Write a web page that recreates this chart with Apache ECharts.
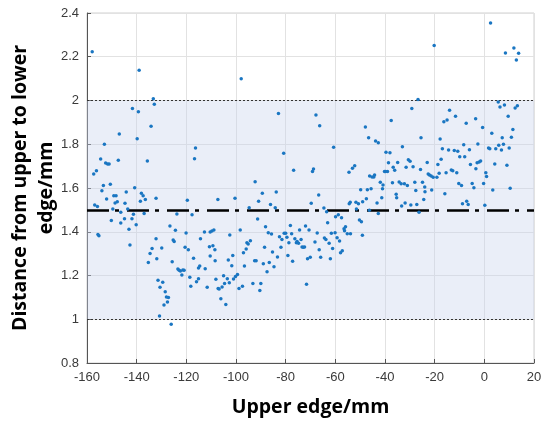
<!DOCTYPE html>
<html>
<head>
<meta charset="utf-8">
<script src="https://cdn.jsdelivr.net/npm/echarts@6/dist/echarts.min.js"></script>
<style>
    html, body { margin: 0; padding: 0; background: #fff; }
    #chart { width: 550px; height: 427px; }
</style>
</head>
<body>
<div id="chart"></div>
<script>
// x ticks and y ticks
var xTicks = [-160, -140, -120, -100, -80, -60, -40, -20, 0, 20];
var yTicks = [0.8, 1, 1.2, 1.4, 1.6, 1.8, 2, 2.2, 2.4];

// tolerance band and nominal value
var bandLow = 1.0;
var bandHigh = 2.0;
var nominal = 1.5;

var outliers = [
    [-157.9, 2.223], [-139.0, 2.138], [-133.3, 2.008], [-132.9, 1.983], [-97.9, 2.10],
    [2.5, 2.354], [-20.2, 2.252], [8.5, 2.217], [11.9, 2.24], [13.8, 2.216], [12.9, 2.185], [-26.7, 2.005]
];

var leftPts = [
    [-141.7, 1.963], [-139.3, 1.949], [-134.2, 1.882], [-147.0, 1.847], [-139.8, 1.825], [-153.0, 1.80],
    [-154.5, 1.733], [-147.4, 1.727], [-152.5, 1.714], [-151.7, 1.710], [-151.1, 1.710], [-135.7, 1.723],
    [-156.2, 1.679], [-157.3, 1.664], [-153.4, 1.612], [-150.6, 1.617], [-154.0, 1.588], [-140.8, 1.601],
    [-144.2, 1.582], [-149.2, 1.565], [-148.3, 1.565], [-138.1, 1.576], [-137.4, 1.565], [-152.1, 1.550],
    [-136.5, 1.547], [-147.8, 1.537], [-148.7, 1.531], [-144.7, 1.530], [-138.5, 1.539], [-132.2, 1.553],
    [-156.9, 1.522], [-155.8, 1.516], [-149.6, 1.504], [-143.6, 1.504],
    [-155.2, 1.382], [-155.6, 1.388], [-150.2, 1.452], [-146.4, 1.440], [-144.9, 1.460], [-143.1, 1.411],
    [-142.7, 1.339], [-141.9, 1.460], [-141.3, 1.480], [-140.2, 1.432], [-137.0, 1.483], [-146.4, 1.489],
    [-135.3, 1.259], [-134.6, 1.301], [-133.8, 1.324], [-132.2, 1.368], [-131.9, 1.277], [-129.9, 1.326],
    [-131.4, 1.178], [-130.6, 1.146], [-129.5, 1.169], [-128.5, 1.126], [-128.0, 1.102], [-127.2, 1.100],
    [-127.6, 1.079], [-129.0, 1.065], [-130.8, 1.015], [-126.1, 0.977], [-126.6, 1.426], [-124.4, 1.407],
    [-125.3, 1.362], [-124.9, 1.355], [-125.7, 1.263], [-123.8, 1.481], [-123.4, 1.230], [-122.9, 1.224],
    [-122.4, 1.221], [-121.8, 1.202], [-121.4, 1.225], [-120.9, 1.224], [-120.5, 1.329], [-120.1, 1.394],
    [-119.2, 1.318], [-118.6, 1.192], [-118.2, 1.151], [-117.7, 1.478], [-117.1, 1.279]
];

var midPts = [
    [-116.3, 1.783], [-116.7, 1.734], [-119.6, 1.544], [-107.3, 1.548], [-100.4, 1.553],
    [-115.9, 1.172], [-115.1, 1.185], [-115.1, 1.234], [-114.6, 1.243], [-114.3, 1.368], [-112.7, 1.399],
    [-112.4, 1.231], [-111.6, 1.146], [-110.7, 1.332], [-110.4, 1.399], [-110.4, 1.289], [-109.7, 1.403],
    [-109.3, 1.336], [-108.5, 1.318], [-108.9, 1.408], [-108.4, 1.268], [-108.1, 1.183], [-107.2, 1.141],
    [-106.8, 1.138], [-106.1, 1.094], [-105.6, 1.147], [-105.0, 1.199], [-104.6, 1.164], [-104.1, 1.067],
    [-103.5, 1.185], [-103.1, 1.271], [-102.7, 1.167], [-102.5, 1.385],
    [-101.7, 1.245], [-101.3, 1.291], [-101.0, 1.184], [-100.2, 1.196], [-99.4, 1.205], [-98.8, 1.141],
    [-98.3, 1.408], [-97.4, 1.151], [-97.0, 1.304], [-96.6, 1.243], [-95.9, 1.321], [-95.6, 1.350],
    [-95.1, 1.344], [-94.2, 1.359], [-93.2, 1.164], [-92.5, 1.268], [-91.9, 1.268], [-91.3, 1.458],
    [-90.4, 1.132], [-90.0, 1.164], [-89.0, 1.254], [-88.5, 1.329], [-88.1, 1.423], [-87.5, 1.217],
    [-87.0, 1.396], [-86.6, 1.260], [-85.7, 1.390], [-85.3, 1.307], [-84.7, 1.240], [-83.3, 1.285],
    [-82.5, 1.377], [-81.9, 1.329], [-81.5, 1.365], [-80.6, 1.393], [-80.0, 1.393], [-79.5, 1.375],
    [-79.1, 1.291], [-78.7, 1.350], [-78.1, 1.429], [-77.6, 1.391], [-77.2, 1.265], [-76.3, 1.368],
    [-75.7, 1.350], [-75.4, 1.355], [-74.8, 1.347], [-74.4, 1.408], [-73.8, 1.365], [-73.4, 1.330],
    [-72.9, 1.329], [-72.4, 1.330], [-72.0, 1.426], [-71.6, 1.160], [-71.2, 1.277], [-70.6, 1.408],
    [-70.1, 1.283], [-68.2, 1.353], [-67.3, 1.394], [-66.5, 1.318], [-65.9, 1.283], [-64.4, 1.371],
    [-63.8, 1.365], [-63.5, 1.492], [-63.1, 1.441], [-62.5, 1.347], [-62.0, 1.277], [-61.6, 1.393],
    [-61.1, 1.324], [-60.1, 1.396], [-59.9, 1.469], [-59.3, 1.373], [-58.8, 1.478], [-58.3, 1.358],
    [-57.9, 1.304], [-57.5, 1.464], [-57.2, 1.313], [-56.5, 1.414], [-56.3, 1.405], [-55.9, 1.423],
    [-55.2, 1.391], [-53.9, 1.391], [-50.3, 1.454], [-49.5, 1.446], [-49.1, 1.384], [-46.3, 1.498],
    [-42.7, 1.483],
    [-82.9, 1.941], [-80.8, 1.759], [-76.8, 1.681], [-92.3, 1.629], [-89.4, 1.576], [-83.8, 1.582],
    [-90.9, 1.539], [-86.1, 1.525], [-94.7, 1.510], [-84.2, 1.510],
    [-67.8, 1.934], [-66.3, 1.885], [-60.7, 1.786], [-47.9, 1.879], [-46.6, 1.830], [-43.8, 1.815],
    [-42.7, 1.807], [-68.8, 1.687], [-69.2, 1.676], [-52.2, 1.702], [-53.1, 1.690], [-54.5, 1.672],
    [-46.2, 1.655], [-45.2, 1.650], [-44.5, 1.650], [-44.2, 1.659], [-40.2, 1.676], [-41.9, 1.626],
    [-40.8, 1.614], [-66.7, 1.568], [-49.8, 1.592], [-47.1, 1.592], [-45.6, 1.597], [-41.0, 1.597],
    [-41.3, 1.556], [-47.5, 1.551], [-49.0, 1.537], [-43.2, 1.531], [-69.7, 1.530], [-64.6, 1.509],
    [-54.0, 1.535], [-54.4, 1.528], [-51.7, 1.535], [-50.7, 1.528], [-51.5, 1.504]
];

var rightPts = [
    [-29.2, 1.964], [-37.5, 1.909], [-14.0, 1.955], [-16.3, 1.903], [-15.0, 1.911], [-11.6, 1.928],
    [-7.3, 1.896], [-3.5, 1.917], [-0.7, 1.877], [5.6, 1.993], [6.3, 1.970], [8.1, 1.979],
    [12.4, 1.966], [13.3, 1.976], [9.6, 1.928], [11.5, 1.868], [3.0, 1.850], [10.9, 1.832],
    [7.2, 1.830], [-25.5, 1.830], [-17.8, 1.824], [-33.0, 1.789], [-16.9, 1.780], [-14.4, 1.774],
    [-12.1, 1.772], [-10.7, 1.768], [-8.3, 1.798], [-6.0, 1.775], [-2.6, 1.801], [1.7, 1.783],
    [2.2, 1.780], [4.6, 1.780], [5.8, 1.795], [6.9, 1.774], [7.7, 1.800], [10.0, 1.783],
    [-39.6, 1.763], [-38.0, 1.761], [-39.8, 1.675], [-39.0, 1.675], [-38.6, 1.716], [-36.7, 1.695],
    [-36.1, 1.681], [-34.9, 1.717], [-31.5, 1.695], [-30.6, 1.729], [-29.9, 1.722], [-28.7, 1.697],
    [-25.7, 1.685], [-23.0, 1.717], [-22.6, 1.664], [-22.1, 1.659], [-21.4, 1.655], [-20.6, 1.649],
    [-19.1, 1.649], [-18.7, 1.708], [-18.2, 1.667], [-17.4, 1.731], [-15.4, 1.670], [-13.3, 1.682],
    [-12.7, 1.679], [-11.1, 1.670], [-9.9, 1.743], [-7.9, 1.743], [-5.6, 1.708], [-3.4, 1.688],
    [-2.9, 1.716], [-2.1, 1.719], [-1.5, 1.723], [0.6, 1.670], [0.9, 1.653], [4.2, 1.710],
    [9.1, 1.704], [-37.0, 1.624], [-34.3, 1.627], [-33.5, 1.620], [-32.2, 1.620], [-31.0, 1.612],
    [-28.0, 1.626], [-24.9, 1.626], [-24.0, 1.605], [-10.3, 1.621], [-9.2, 1.612], [-4.9, 1.621],
    [-4.2, 1.601], [-0.3, 1.621], [3.4, 1.591], [10.4, 1.599],
    [-35.5, 1.571], [-35.3, 1.556], [-33.3, 1.518], [-31.9, 1.531], [-29.6, 1.522], [-27.2, 1.525],
    [-27.6, 1.589], [-26.3, 1.489], [-24.4, 1.548], [-23.9, 1.583], [-21.2, 1.591], [-15.9, 1.574],
    [-8.8, 1.528], [-7.1, 1.540], [-6.5, 1.525], [0.2, 1.521]
];

var points = outliers.concat(leftPts, midPts, rightPts);

var labelFont = { fontFamily: 'Liberation Sans', fontSize: 13, color: '#3a3a3a' };
var titleFont = { fontFamily: 'Open Sans', fontSize: 19.5, fontWeight: 'bold', color: '#000' };

var myChart = echarts.init(document.getElementById('chart'));

myChart.setOption({
    animation: false,
    grid: {
        left: 87, right: 16, top: 13, bottom: 64,
        outerBoundsMode: 'none',
        containLabel: false,
        show: true,
        borderColor: '#d0d0d0',
        borderWidth: 1
    },
    xAxis: {
        type: 'value',
        min: xTicks[0],
        max: xTicks[xTicks.length - 1],
        interval: 20,
        name: 'Upper edge/mm',
        nameLocation: 'middle',
        nameGap: 34,
        nameMoveOverlap: false,
        nameTextStyle: titleFont,
        axisLine: { onZero: false, lineStyle: { color: '#555', width: 1 } },
        axisTick: { inside: true, length: 4, lineStyle: { color: '#555' } },
        axisLabel: Object.assign({ margin: 8 }, labelFont),
        splitLine: { show: true, lineStyle: { color: '#e2e2e2', width: 1 } }
    },
    yAxis: {
        type: 'value',
        min: yTicks[0],
        max: yTicks[yTicks.length - 1],
        interval: 0.2,
        name: 'Distance from upper to lower\nedge/mm',
        nameLocation: 'middle',
        nameGap: 28,
        nameMoveOverlap: false,
        nameTextStyle: Object.assign({ lineHeight: 26 }, titleFont),
        axisLine: { show: true, onZero: false, lineStyle: { color: '#555', width: 1 } },
        axisTick: { show: true, inside: true, length: 4, lineStyle: { color: '#555' } },
        axisLabel: Object.assign({
            margin: 8,
            formatter: function (v) { return String(Math.round(v * 10) / 10); }
        }, labelFont),
        splitLine: { show: true, lineStyle: { color: '#e2e2e2', width: 1 } }
    },
    series: [
        {
            type: 'scatter',
            data: points,
            symbolSize: 3.5,
            itemStyle: { color: '#1a76c2', opacity: 1 },
            z: 5,
            markArea: {
                silent: true,
                itemStyle: { color: 'rgba(200, 210, 236, 0.38)' },
                data: [[{ yAxis: bandLow }, { yAxis: bandHigh }]]
            },
            markLine: {
                silent: true,
                symbol: 'none',
                label: { show: false },
                data: [
                    { yAxis: bandHigh, lineStyle: { color: '#333', width: 1, type: [2, 2] } },
                    { yAxis: bandLow, lineStyle: { color: '#333', width: 1, type: [2, 2] } },
                    { yAxis: nominal, lineStyle: { color: '#000', width: 2.5, type: [22, 6, 4, 8] } }
                ]
            }
        }
    ]
});
</script>
</body>
</html>
